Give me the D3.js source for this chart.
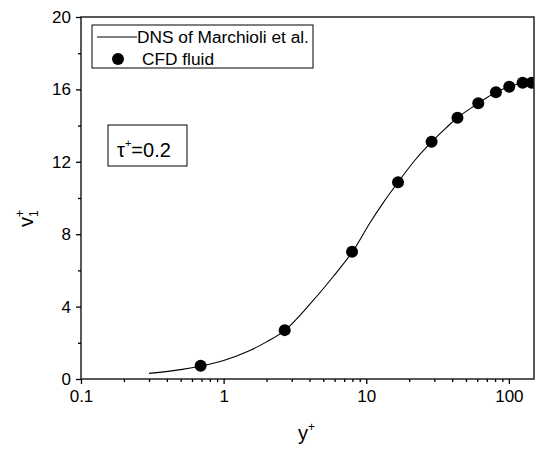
<!DOCTYPE html>
<html>
<head>
<meta charset="utf-8">
<script src="https://cdn.jsdelivr.net/npm/d3@7"></script>
<style>
  body { margin: 0; background: #fff; }
  text { font-family: Arial, "Liberation Sans", sans-serif; fill: #000; }
</style>
</head>
<body>
<script>
// DNS line (Marchioli et al.)
var dnsY = [0.3, 0.5, 0.7, 1.0, 1.5, 2.0, 2.7, 4.2, 5.85, 8.0, 10.6, 13.1, 16.7, 22, 28.7, 36, 43.6, 61, 81, 100, 125, 150];
var dnsV = [0.31, 0.52, 0.72, 1.02, 1.55, 2.05, 2.7, 4.3, 5.65, 7.03, 8.62, 9.72, 10.87, 12.1, 13.1, 13.85, 14.44, 15.23, 15.84, 16.15, 16.37, 16.45];

// CFD fluid points
var cfdY = [0.69, 2.68, 7.95, 16.7, 28.7, 43.6, 61.0, 81.1, 100.6, 124.8, 144.5];
var cfdV = [0.73, 2.7, 7.03, 10.87, 13.11, 14.44, 15.23, 15.84, 16.15, 16.37, 16.37];

var xMajor = [0.1, 1, 10, 100];
var yMajor = [0, 4, 8, 12, 16, 20];
var yMinor = [2, 6, 10, 14, 18];

var w = 541, h = 450;
var pLeft = 81, pRight = 534, pTop = 17, pBottom = 379;

var x = d3.scaleLog().domain([0.1, 150]).range([pLeft, pRight]);
var y = d3.scaleLinear().domain([0, 20]).range([pBottom, pTop]);

// minor ticks on the log axis: 2..9 of every decade
var xMinor = [];
xMajor.forEach(function(d) {
  for (var k = 2; k <= 9; k++) {
    var v = d * k;
    if (v < 150) xMinor.push(v);
  }
});

var svg = d3.select("body").append("svg")
  .attr("width", w)
  .attr("height", h);

svg.append("defs").append("clipPath").attr("id", "plotclip")
  .append("rect")
  .attr("x", pLeft).attr("y", pTop)
  .attr("width", pRight - pLeft).attr("height", pBottom - pTop);

var plot = svg.append("g").attr("clip-path", "url(#plotclip)");

var line = d3.line()
  .x(function(d, i) { return x(dnsY[i]); })
  .y(function(d, i) { return y(dnsV[i]); })
  .curve(d3.curveCatmullRom.alpha(0.5));

plot.append("path")
  .datum(dnsV)
  .attr("d", line)
  .attr("fill", "none")
  .attr("stroke", "#000")
  .attr("stroke-width", 1.1);

plot.selectAll("circle")
  .data(cfdV)
  .enter()
  .append("circle")
  .attr("cx", function(d, i) { return x(cfdY[i]); })
  .attr("cy", function(d) { return y(d); })
  .attr("r", 6)
  .attr("fill", "#000");

// frame
svg.append("rect")
  .attr("x", pLeft).attr("y", pTop)
  .attr("width", pRight - pLeft).attr("height", pBottom - pTop)
  .attr("fill", "none")
  .attr("stroke", "#222")
  .attr("stroke-width", 1.5);

function styleAxis(g) {
  g.select(".domain").remove();
  g.selectAll("line").attr("stroke", "#000").attr("stroke-width", 1.3);
  g.selectAll("text").attr("font-size", 17).attr("font-family", "Arial, 'Liberation Sans', sans-serif");
}

svg.append("g")
  .attr("transform", "translate(0," + pBottom + ")")
  .call(d3.axisBottom(x).tickValues(xMajor).tickSize(5).tickPadding(6)
    .tickFormat(function(d) { return d === 0.1 ? "0.1" : d3.format("d")(d); }))
  .call(styleAxis);

svg.append("g")
  .attr("transform", "translate(0," + pBottom + ")")
  .call(d3.axisBottom(x).tickValues(xMinor).tickSize(3).tickFormat(""))
  .call(styleAxis);

svg.append("g")
  .attr("transform", "translate(" + pLeft + ",0)")
  .call(d3.axisLeft(y).tickValues(yMajor).tickSize(5).tickPadding(5))
  .call(styleAxis);

svg.append("g")
  .attr("transform", "translate(" + pLeft + ",0)")
  .call(d3.axisLeft(y).tickValues(yMinor).tickSize(3).tickFormat(""))
  .call(styleAxis);

// axis titles
var xt = svg.append("text")
  .attr("x", 298).attr("y", 440)
  .attr("font-size", 20);
xt.append("tspan").text("y");
xt.append("tspan").attr("font-size", 12).attr("dy", -9).text("+");

var yt = svg.append("text")
  .attr("transform", "translate(33,227) rotate(-90)")
  .attr("font-size", 20);
yt.append("tspan").text("v");
yt.append("tspan").attr("font-size", 12).attr("dy", -9).text("+");
yt.append("tspan").attr("font-size", 12).attr("dx", -7).attr("dy", 14).text("1");

// legend
svg.append("rect")
  .attr("x", 92).attr("y", 25).attr("width", 221).attr("height", 43)
  .attr("fill", "#fff").attr("stroke", "#000").attr("stroke-width", 1);
svg.append("line")
  .attr("x1", 97).attr("x2", 137).attr("y1", 37).attr("y2", 37)
  .attr("stroke", "#000").attr("stroke-width", 1.1);
svg.append("text").attr("x", 137).attr("y", 43).attr("font-size", 17.3)
  .text("DNS of Marchioli et al.");
svg.append("circle").attr("cx", 118).attr("cy", 59).attr("r", 6).attr("fill", "#000");
svg.append("text").attr("x", 142).attr("y", 64.5).attr("font-size", 17.3)
  .text("CFD fluid");

// tau label
svg.append("rect")
  .attr("x", 108).attr("y", 125).attr("width", 79).attr("height", 41)
  .attr("fill", "#fff").attr("stroke", "#000").attr("stroke-width", 1);
var tt = svg.append("text").attr("x", 117).attr("y", 157).attr("font-size", 20);
tt.append("tspan").text("τ");
tt.append("tspan").attr("font-size", 11).attr("dy", -10).text("+");
tt.append("tspan").attr("dy", 10).text("=0.2");
</script>
</body>
</html>
